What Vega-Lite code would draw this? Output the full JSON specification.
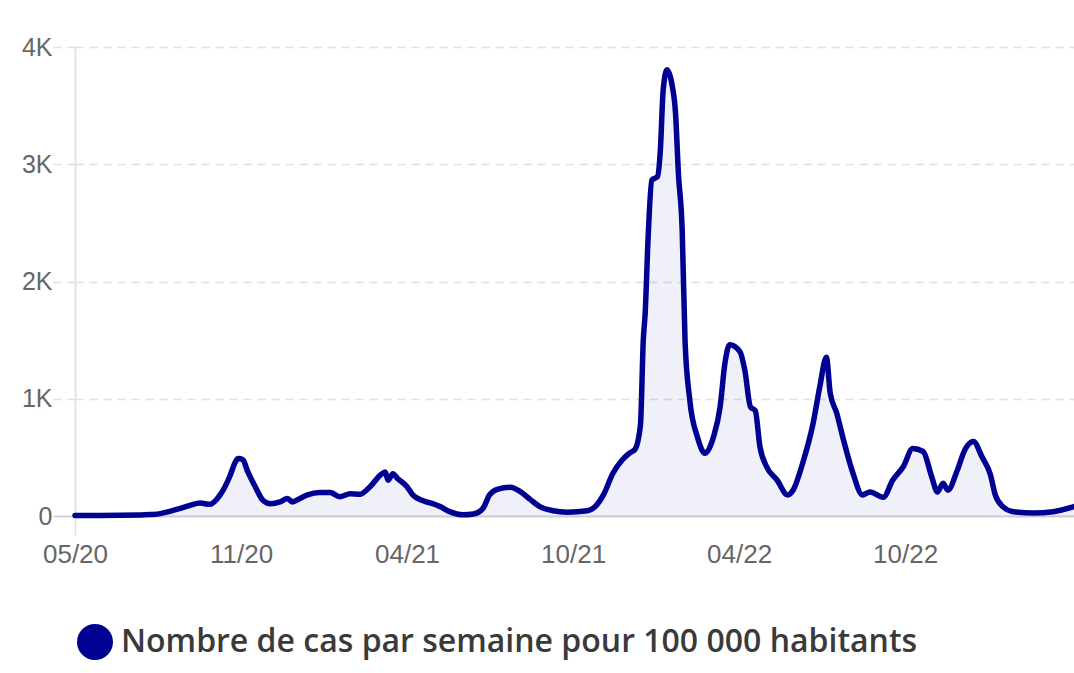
{
  "$schema": "https://vega.github.io/schema/vega-lite/v6.json",
  "autosize": {"type": "none"},
  "padding": {"left": 75, "top": 47, "right": 0, "bottom": 157},
  "width": 999,
  "height": 469,
  "background": "#ffffff",
  "config": {"view": {"stroke": null}},
  "data": {"values": [
    {"date": "2020-05-13", "cas": 5, "serie": "Nombre de cas par semaine pour 100 000 habitants"},
    {"date": "2020-06-08", "cas": 5, "serie": "Nombre de cas par semaine pour 100 000 habitants"},
    {"date": "2020-07-21", "cas": 8, "serie": "Nombre de cas par semaine pour 100 000 habitants"},
    {"date": "2020-07-31", "cas": 12, "serie": "Nombre de cas par semaine pour 100 000 habitants"},
    {"date": "2020-08-11", "cas": 20, "serie": "Nombre de cas par semaine pour 100 000 habitants"},
    {"date": "2020-08-21", "cas": 40, "serie": "Nombre de cas par semaine pour 100 000 habitants"},
    {"date": "2020-09-01", "cas": 65, "serie": "Nombre de cas par semaine pour 100 000 habitants"},
    {"date": "2020-09-11", "cas": 90, "serie": "Nombre de cas par semaine pour 100 000 habitants"},
    {"date": "2020-09-22", "cas": 110, "serie": "Nombre de cas par semaine pour 100 000 habitants"},
    {"date": "2020-10-02", "cas": 100, "serie": "Nombre de cas par semaine pour 100 000 habitants"},
    {"date": "2020-10-13", "cas": 180, "serie": "Nombre de cas par semaine pour 100 000 habitants"},
    {"date": "2020-10-23", "cas": 335, "serie": "Nombre de cas par semaine pour 100 000 habitants"},
    {"date": "2020-10-29", "cas": 460, "serie": "Nombre de cas par semaine pour 100 000 habitants"},
    {"date": "2020-11-01", "cas": 490, "serie": "Nombre de cas par semaine pour 100 000 habitants"},
    {"date": "2020-11-06", "cas": 480, "serie": "Nombre de cas par semaine pour 100 000 habitants"},
    {"date": "2020-11-11", "cas": 380, "serie": "Nombre de cas par semaine pour 100 000 habitants"},
    {"date": "2020-11-19", "cas": 250, "serie": "Nombre de cas par semaine pour 100 000 habitants"},
    {"date": "2020-11-27", "cas": 135, "serie": "Nombre de cas par semaine pour 100 000 habitants"},
    {"date": "2020-12-05", "cas": 105, "serie": "Nombre de cas par semaine pour 100 000 habitants"},
    {"date": "2020-12-15", "cas": 120, "serie": "Nombre de cas par semaine pour 100 000 habitants"},
    {"date": "2020-12-23", "cas": 150, "serie": "Nombre de cas par semaine pour 100 000 habitants"},
    {"date": "2020-12-28", "cas": 120, "serie": "Nombre de cas par semaine pour 100 000 habitants"},
    {"date": "2021-01-05", "cas": 150, "serie": "Nombre de cas par semaine pour 100 000 habitants"},
    {"date": "2021-01-13", "cas": 180, "serie": "Nombre de cas par semaine pour 100 000 habitants"},
    {"date": "2021-01-26", "cas": 200, "serie": "Nombre de cas par semaine pour 100 000 habitants"},
    {"date": "2021-02-06", "cas": 200, "serie": "Nombre de cas par semaine pour 100 000 habitants"},
    {"date": "2021-02-16", "cas": 165, "serie": "Nombre de cas par semaine pour 100 000 habitants"},
    {"date": "2021-02-27", "cas": 190, "serie": "Nombre de cas par semaine pour 100 000 habitants"},
    {"date": "2021-03-09", "cas": 185, "serie": "Nombre de cas par semaine pour 100 000 habitants"},
    {"date": "2021-03-20", "cas": 250, "serie": "Nombre de cas par semaine pour 100 000 habitants"},
    {"date": "2021-03-31", "cas": 350, "serie": "Nombre de cas par semaine pour 100 000 habitants"},
    {"date": "2021-04-05", "cas": 375, "serie": "Nombre de cas par semaine pour 100 000 habitants"},
    {"date": "2021-04-08", "cas": 305, "serie": "Nombre de cas par semaine pour 100 000 habitants"},
    {"date": "2021-04-13", "cas": 360, "serie": "Nombre de cas par semaine pour 100 000 habitants"},
    {"date": "2021-04-18", "cas": 320, "serie": "Nombre de cas par semaine pour 100 000 habitants"},
    {"date": "2021-04-28", "cas": 250, "serie": "Nombre de cas par semaine pour 100 000 habitants"},
    {"date": "2021-05-04", "cas": 180, "serie": "Nombre de cas par semaine pour 100 000 habitants"},
    {"date": "2021-05-15", "cas": 130, "serie": "Nombre de cas par semaine pour 100 000 habitants"},
    {"date": "2021-05-25", "cas": 105, "serie": "Nombre de cas par semaine pour 100 000 habitants"},
    {"date": "2021-06-02", "cas": 80, "serie": "Nombre de cas par semaine pour 100 000 habitants"},
    {"date": "2021-06-12", "cas": 37, "serie": "Nombre de cas par semaine pour 100 000 habitants"},
    {"date": "2021-06-26", "cas": 10, "serie": "Nombre de cas par semaine pour 100 000 habitants"},
    {"date": "2021-07-07", "cas": 17, "serie": "Nombre de cas par semaine pour 100 000 habitants"},
    {"date": "2021-07-17", "cas": 65, "serie": "Nombre de cas par semaine pour 100 000 habitants"},
    {"date": "2021-07-24", "cas": 180, "serie": "Nombre de cas par semaine pour 100 000 habitants"},
    {"date": "2021-08-01", "cas": 228, "serie": "Nombre de cas par semaine pour 100 000 habitants"},
    {"date": "2021-08-15", "cas": 245, "serie": "Nombre de cas par semaine pour 100 000 habitants"},
    {"date": "2021-08-25", "cas": 210, "serie": "Nombre de cas par semaine pour 100 000 habitants"},
    {"date": "2021-09-05", "cas": 140, "serie": "Nombre de cas par semaine pour 100 000 habitants"},
    {"date": "2021-09-15", "cas": 80, "serie": "Nombre de cas par semaine pour 100 000 habitants"},
    {"date": "2021-09-29", "cas": 45, "serie": "Nombre de cas par semaine pour 100 000 habitants"},
    {"date": "2021-10-14", "cas": 33, "serie": "Nombre de cas par semaine pour 100 000 habitants"},
    {"date": "2021-11-04", "cas": 45, "serie": "Nombre de cas par semaine pour 100 000 habitants"},
    {"date": "2021-11-14", "cas": 95, "serie": "Nombre de cas par semaine pour 100 000 habitants"},
    {"date": "2021-11-21", "cas": 180, "serie": "Nombre de cas par semaine pour 100 000 habitants"},
    {"date": "2021-12-01", "cas": 365, "serie": "Nombre de cas par semaine pour 100 000 habitants"},
    {"date": "2021-12-11", "cas": 480, "serie": "Nombre de cas par semaine pour 100 000 habitants"},
    {"date": "2021-12-19", "cas": 540, "serie": "Nombre de cas par semaine pour 100 000 habitants"},
    {"date": "2021-12-24", "cas": 565, "serie": "Nombre de cas par semaine pour 100 000 habitants"},
    {"date": "2021-12-30", "cas": 775, "serie": "Nombre de cas par semaine pour 100 000 habitants"},
    {"date": "2022-01-02", "cas": 1500, "serie": "Nombre de cas par semaine pour 100 000 habitants"},
    {"date": "2022-01-04", "cas": 1730, "serie": "Nombre de cas par semaine pour 100 000 habitants"},
    {"date": "2022-01-07", "cas": 2355, "serie": "Nombre de cas par semaine pour 100 000 habitants"},
    {"date": "2022-01-11", "cas": 2865, "serie": "Nombre de cas par semaine pour 100 000 habitants"},
    {"date": "2022-01-17", "cas": 2895, "serie": "Nombre de cas par semaine pour 100 000 habitants"},
    {"date": "2022-01-20", "cas": 3120, "serie": "Nombre de cas par semaine pour 100 000 habitants"},
    {"date": "2022-01-23", "cas": 3635, "serie": "Nombre de cas par semaine pour 100 000 habitants"},
    {"date": "2022-01-27", "cas": 3805, "serie": "Nombre de cas par semaine pour 100 000 habitants"},
    {"date": "2022-02-01", "cas": 3690, "serie": "Nombre de cas par semaine pour 100 000 habitants"},
    {"date": "2022-02-05", "cas": 3435, "serie": "Nombre de cas par semaine pour 100 000 habitants"},
    {"date": "2022-02-08", "cas": 2925, "serie": "Nombre de cas par semaine pour 100 000 habitants"},
    {"date": "2022-02-12", "cas": 2440, "serie": "Nombre de cas par semaine pour 100 000 habitants"},
    {"date": "2022-02-15", "cas": 1500, "serie": "Nombre de cas par semaine pour 100 000 habitants"},
    {"date": "2022-02-20", "cas": 990, "serie": "Nombre de cas par semaine pour 100 000 habitants"},
    {"date": "2022-02-28", "cas": 675, "serie": "Nombre de cas par semaine pour 100 000 habitants"},
    {"date": "2022-03-08", "cas": 535, "serie": "Nombre de cas par semaine pour 100 000 habitants"},
    {"date": "2022-03-17", "cas": 675, "serie": "Nombre de cas par semaine pour 100 000 habitants"},
    {"date": "2022-03-24", "cas": 930, "serie": "Nombre de cas par semaine pour 100 000 habitants"},
    {"date": "2022-03-29", "cas": 1300, "serie": "Nombre de cas par semaine pour 100 000 habitants"},
    {"date": "2022-04-03", "cas": 1460, "serie": "Nombre de cas par semaine pour 100 000 habitants"},
    {"date": "2022-04-14", "cas": 1400, "serie": "Nombre de cas par semaine pour 100 000 habitants"},
    {"date": "2022-04-19", "cas": 1245, "serie": "Nombre de cas par semaine pour 100 000 habitants"},
    {"date": "2022-04-25", "cas": 930, "serie": "Nombre de cas par semaine pour 100 000 habitants"},
    {"date": "2022-04-30", "cas": 900, "serie": "Nombre de cas par semaine pour 100 000 habitants"},
    {"date": "2022-05-05", "cas": 590, "serie": "Nombre de cas par semaine pour 100 000 habitants"},
    {"date": "2022-05-12", "cas": 420, "serie": "Nombre de cas par semaine pour 100 000 habitants"},
    {"date": "2022-05-23", "cas": 307, "serie": "Nombre de cas par semaine pour 100 000 habitants"},
    {"date": "2022-06-03", "cas": 180, "serie": "Nombre de cas par semaine pour 100 000 habitants"},
    {"date": "2022-06-09", "cas": 222, "serie": "Nombre de cas par semaine pour 100 000 habitants"},
    {"date": "2022-06-19", "cas": 450, "serie": "Nombre de cas par semaine pour 100 000 habitants"},
    {"date": "2022-06-30", "cas": 790, "serie": "Nombre de cas par semaine pour 100 000 habitants"},
    {"date": "2022-07-07", "cas": 1100, "serie": "Nombre de cas par semaine pour 100 000 habitants"},
    {"date": "2022-07-14", "cas": 1355, "serie": "Nombre de cas par semaine pour 100 000 habitants"},
    {"date": "2022-07-18", "cas": 1050, "serie": "Nombre de cas par semaine pour 100 000 habitants"},
    {"date": "2022-07-25", "cas": 875, "serie": "Nombre de cas par semaine pour 100 000 habitants"},
    {"date": "2022-08-01", "cas": 650, "serie": "Nombre de cas par semaine pour 100 000 habitants"},
    {"date": "2022-08-11", "cas": 365, "serie": "Nombre de cas par semaine pour 100 000 habitants"},
    {"date": "2022-08-21", "cas": 180, "serie": "Nombre de cas par semaine pour 100 000 habitants"},
    {"date": "2022-08-29", "cas": 205, "serie": "Nombre de cas par semaine pour 100 000 habitants"},
    {"date": "2022-09-12", "cas": 160, "serie": "Nombre de cas par semaine pour 100 000 habitants"},
    {"date": "2022-09-22", "cas": 307, "serie": "Nombre de cas par semaine pour 100 000 habitants"},
    {"date": "2022-10-03", "cas": 420, "serie": "Nombre de cas par semaine pour 100 000 habitants"},
    {"date": "2022-10-13", "cas": 575, "serie": "Nombre de cas par semaine pour 100 000 habitants"},
    {"date": "2022-10-24", "cas": 550, "serie": "Nombre de cas par semaine pour 100 000 habitants"},
    {"date": "2022-11-02", "cas": 335, "serie": "Nombre de cas par semaine pour 100 000 habitants"},
    {"date": "2022-11-08", "cas": 205, "serie": "Nombre de cas par semaine pour 100 000 habitants"},
    {"date": "2022-11-14", "cas": 280, "serie": "Nombre de cas par semaine pour 100 000 habitants"},
    {"date": "2022-11-19", "cas": 220, "serie": "Nombre de cas par semaine pour 100 000 habitants"},
    {"date": "2022-11-29", "cas": 390, "serie": "Nombre de cas par semaine pour 100 000 habitants"},
    {"date": "2022-12-07", "cas": 565, "serie": "Nombre de cas par semaine pour 100 000 habitants"},
    {"date": "2022-12-16", "cas": 635, "serie": "Nombre de cas par semaine pour 100 000 habitants"},
    {"date": "2022-12-25", "cas": 505, "serie": "Nombre de cas par semaine pour 100 000 habitants"},
    {"date": "2023-01-03", "cas": 350, "serie": "Nombre de cas par semaine pour 100 000 habitants"},
    {"date": "2023-01-08", "cas": 180, "serie": "Nombre de cas par semaine pour 100 000 habitants"},
    {"date": "2023-01-16", "cas": 80, "serie": "Nombre de cas par semaine pour 100 000 habitants"},
    {"date": "2023-01-27", "cas": 37, "serie": "Nombre de cas par semaine pour 100 000 habitants"},
    {"date": "2023-02-17", "cas": 25, "serie": "Nombre de cas par semaine pour 100 000 habitants"},
    {"date": "2023-03-10", "cas": 37, "serie": "Nombre de cas par semaine pour 100 000 habitants"},
    {"date": "2023-04-01", "cas": 80, "serie": "Nombre de cas par semaine pour 100 000 habitants"}
  ]},
  "encoding": {
    "x": {
      "field": "date",
      "type": "temporal",
      "scale": {"type": "utc", "domain": [{"year": 2020, "month": 5, "date": 13, "utc": true}, {"year": 2023, "month": 4, "date": 1, "utc": true}]},
      "axis": {
        "title": null,
        "values": [
          {"year": 2020, "month": 5, "date": 13, "utc": true},
          {"year": 2020, "month": 11, "date": 4, "utc": true},
          {"year": 2021, "month": 4, "date": 28, "utc": true},
          {"year": 2021, "month": 10, "date": 20, "utc": true},
          {"year": 2022, "month": 4, "date": 13, "utc": true},
          {"year": 2022, "month": 10, "date": 5, "utc": true}
        ],
        "labelExpr": "utcFormat(datum.value, '%m/%y')",
        "grid": false,
        "domain": true,
        "domainColor": "#cccccc",
        "domainWidth": 1.5,
        "tickSize": 20,
        "tickWidth": 1.5,
        "tickColor": {"condition": {"test": "datum.index === 0", "value": "#e3e3e3"}, "value": "transparent"},
        "labelFont": "Liberation Sans",
        "labelFontSize": 26,
        "labelColor": "#666666",
        "labelPadding": 5,
        "labelFlush": false
      }
    },
    "y": {
      "field": "cas",
      "type": "quantitative",
      "scale": {"domain": [0, 4000], "nice": false},
      "axis": {
        "title": null,
        "values": [0, 1000, 2000, 3000, 4000],
        "labelExpr": "datum.value === 0 ? '0' : (datum.value / 1000) + 'K'",
        "grid": true,
        "gridColor": {"condition": {"test": "datum.value === 0", "value": "#cccccc"}, "value": "#e0e0e0"},
        "gridDash": {"condition": {"test": "datum.value === 0", "value": []}, "value": [8, 6]},
        "gridWidth": 1.5,
        "tickSize": 22,
        "tickWidth": 1.5,
        "tickColor": {"condition": {"test": "datum.value === 0", "value": "#cccccc"}, "value": "#e0e0e0"},
        "tickDash": {"condition": {"test": "datum.value === 0", "value": []}, "value": [8, 6]},
        "domain": true,
        "domainColor": "#e3e3e3",
        "domainWidth": 2,
        "labelFont": "Liberation Sans",
        "labelFontSize": 25,
        "labelColor": "#666666",
        "labelPadding": 1,
        "labelBaseline": "middle"
      }
    }
  },
  "layer": [
    {
      "mark": {"type": "area", "interpolate": "monotone", "fill": "#000091", "fillOpacity": 0.06}
    },
    {
      "mark": {"type": "line", "interpolate": "monotone", "strokeWidth": 5.5, "strokeCap": "round", "strokeJoin": "round"},
      "encoding": {
        "color": {
          "field": "serie",
          "type": "nominal",
          "scale": {"range": ["#000091"]},
          "legend": {
            "title": null,
            "orient": "none",
            "legendX": 2,
            "legendY": 577,
            "symbolType": "circle",
            "symbolSize": 1296,
            "symbolFillColor": "#000091",
            "symbolStrokeWidth": 0,
            "symbolOpacity": 1,
            "labelFont": "Open Sans",
            "labelFontWeight": 600,
            "labelFontSize": 32,
            "labelColor": "#3a3a3a",
            "labelLimit": 2000,
            "labelOffset": 8
          }
        }
      }
    }
  ]
}
